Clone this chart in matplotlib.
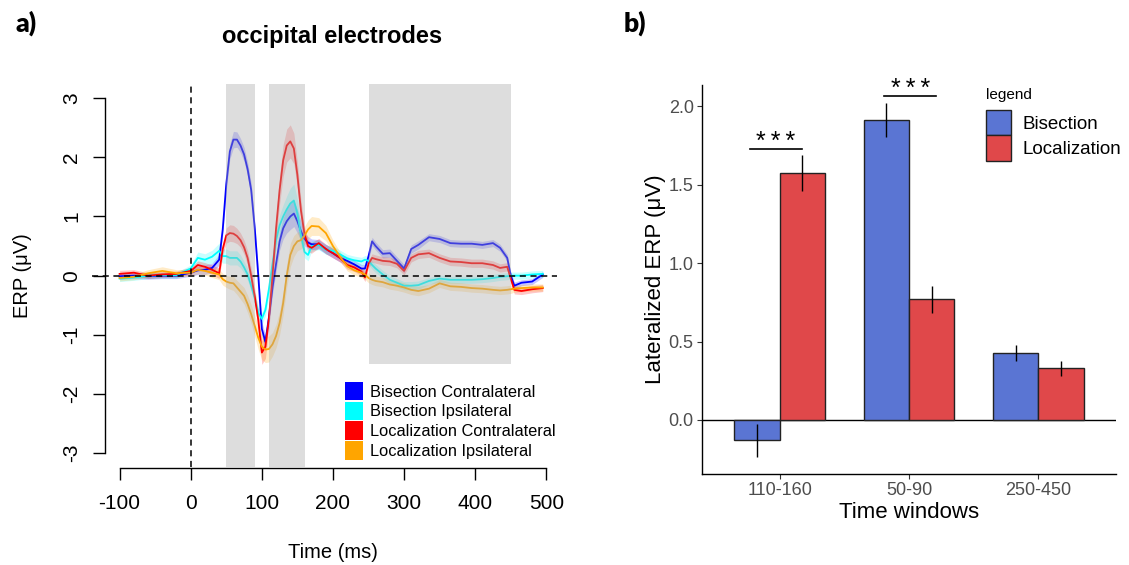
import numpy as np
import matplotlib
matplotlib.use("Agg")
import matplotlib.pyplot as plt
from matplotlib.patches import Patch

plt.rcParams['font.family'] = ['Liberation Sans', 'DejaVu Sans']
plt.rcParams['axes.unicode_minus'] = False

# ---- panel a: grand average ERP, occipital electrodes ----
time_ms = [-100, -80, -60, -40, -20, 0, 10, 20, 30, 40,
           45, 50, 55, 60, 65, 70, 75, 80, 85, 90,
           95, 100, 105, 110, 115, 120, 125, 130, 135, 140,
           145, 150, 155, 160, 165, 170, 180, 190, 200, 210,
           220, 230, 240, 245, 250, 255, 260, 270, 280, 290,
           300, 310, 320, 335, 350, 365, 380, 395, 410, 425,
           435, 445, 450, 455, 465, 480, 495]

bis_contra = [-0.01, 0.0, -0.01, 0.0, 0.0, 0.05, 0.09, 0.1, 0.13, 0.27,
              0.78, 1.55, 2.1, 2.3, 2.3, 2.2, 2.05, 1.8, 1.45, 0.8,
              0.0, -0.9, -1.12, -0.7, -0.2, 0.2, 0.58, 0.8, 0.92, 1.0,
              1.05, 0.92, 0.75, 0.62, 0.56, 0.53, 0.53, 0.45, 0.38, 0.3,
              0.25, 0.19, 0.12, 0.12, 0.33, 0.58, 0.5, 0.37, 0.38, 0.25,
              0.12, 0.45, 0.52, 0.65, 0.62, 0.55, 0.54, 0.54, 0.52, 0.55,
              0.47, 0.3, 0.0, -0.17, -0.12, -0.1, 0.02]
bis_ipsi = [-0.05, -0.03, 0.0, 0.01, 0.01, 0.12, 0.3, 0.27, 0.32, 0.42,
            0.33, 0.33, 0.3, 0.3, 0.3, 0.24, 0.14, 0.02, -0.17, -0.38,
            -0.63, -0.73, -0.58, -0.22, 0.2, 0.6, 0.85, 1.0, 1.12, 1.22,
            1.27, 1.05, 0.68, 0.4, 0.35, 0.5, 0.52, 0.44, 0.42, 0.36,
            0.29, 0.26, 0.24, 0.27, 0.25, 0.18, 0.12, 0.02, -0.07, -0.12,
            -0.17, -0.17, -0.16, -0.09, -0.05, -0.07, -0.07, -0.07, -0.06, -0.04,
            -0.02, -0.01, 0.0, 0.0, 0.0, 0.02, 0.03]
loc_contra = [0.03, 0.05, 0.0, 0.02, 0.03, 0.08, 0.18, 0.15, 0.1, 0.04,
              0.45, 0.68, 0.72, 0.71, 0.67, 0.6, 0.48, 0.3, 0.0, -0.35,
              -0.75, -1.3, -1.2, -0.72, 0.0, 0.8, 1.45, 1.95, 2.2, 2.27,
              2.15, 1.7, 1.1, 0.7, 0.5, 0.47, 0.55, 0.45, 0.38, 0.3,
              0.18, 0.14, 0.07, -0.03, 0.2, 0.3, 0.28, 0.25, 0.24, 0.2,
              0.08, 0.3, 0.36, 0.38, 0.3, 0.24, 0.23, 0.21, 0.21, 0.18,
              0.13, 0.15, -0.05, -0.24, -0.26, -0.23, -0.21]
loc_ipsi = [-0.04, -0.02, 0.04, 0.08, 0.04, 0.05, 0.1, 0.08, 0.05, 0.02,
            -0.06, -0.1, -0.12, -0.13, -0.2, -0.27, -0.34, -0.48, -0.65, -0.85,
            -1.05, -1.2, -1.25, -1.24, -1.16, -1.02, -0.8, -0.46, 0.0, 0.35,
            0.5, 0.58, 0.6, 0.68, 0.78, 0.84, 0.83, 0.72, 0.5, 0.32,
            0.16, 0.09, 0.05, 0.02, -0.04, -0.07, -0.09, -0.11, -0.15, -0.17,
            -0.2, -0.24, -0.26, -0.22, -0.13, -0.18, -0.19, -0.21, -0.22, -0.24,
            -0.25, -0.24, -0.23, -0.22, -0.21, -0.2, -0.2]

# standard error ribbons
bis_contra_se = [0.05, 0.05, 0.05, 0.05, 0.05, 0.06, 0.07, 0.08, 0.08, 0.09,
                 0.1, 0.12, 0.13, 0.14, 0.13, 0.12, 0.12, 0.12, 0.12, 0.12,
                 0.12, 0.12, 0.12, 0.12, 0.12, 0.13, 0.15, 0.18, 0.2, 0.22,
                 0.22, 0.2, 0.16, 0.12, 0.1, 0.09, 0.08, 0.08, 0.08, 0.07,
                 0.07, 0.07, 0.07, 0.07, 0.07, 0.07, 0.07, 0.07, 0.07, 0.07,
                 0.07, 0.07, 0.07, 0.06, 0.06, 0.06, 0.06, 0.06, 0.06, 0.06,
                 0.06, 0.06, 0.06, 0.06, 0.05, 0.05, 0.05]
bis_ipsi_se = [0.05, 0.05, 0.05, 0.05, 0.05, 0.06, 0.1, 0.1, 0.11, 0.13,
               0.12, 0.12, 0.12, 0.12, 0.12, 0.11, 0.1, 0.1, 0.1, 0.1,
               0.1, 0.1, 0.1, 0.1, 0.12, 0.15, 0.18, 0.2, 0.23, 0.26,
               0.28, 0.24, 0.16, 0.1, 0.1, 0.09, 0.08, 0.08, 0.08, 0.07,
               0.07, 0.07, 0.07, 0.07, 0.07, 0.07, 0.07, 0.07, 0.07, 0.07,
               0.07, 0.07, 0.07, 0.06, 0.06, 0.06, 0.06, 0.06, 0.06, 0.06,
               0.06, 0.06, 0.06, 0.06, 0.06, 0.06, 0.06]
loc_contra_se = [0.06, 0.05, 0.05, 0.05, 0.05, 0.06, 0.07, 0.07, 0.08, 0.09,
                 0.11, 0.13, 0.14, 0.14, 0.13, 0.12, 0.12, 0.12, 0.13, 0.14,
                 0.16, 0.2, 0.2, 0.18, 0.18, 0.2, 0.24, 0.27, 0.28, 0.28,
                 0.26, 0.22, 0.18, 0.12, 0.1, 0.09, 0.08, 0.08, 0.08, 0.07,
                 0.07, 0.07, 0.07, 0.07, 0.07, 0.07, 0.07, 0.07, 0.07, 0.07,
                 0.07, 0.07, 0.07, 0.07, 0.07, 0.07, 0.07, 0.07, 0.07, 0.07,
                 0.07, 0.07, 0.07, 0.07, 0.06, 0.06, 0.06]
loc_ipsi_se = [0.05, 0.05, 0.06, 0.07, 0.06, 0.06, 0.07, 0.07, 0.08, 0.09,
               0.1, 0.1, 0.11, 0.12, 0.12, 0.13, 0.14, 0.15, 0.16, 0.18,
               0.2, 0.22, 0.22, 0.22, 0.2, 0.2, 0.2, 0.2, 0.2, 0.2,
               0.18, 0.16, 0.15, 0.15, 0.16, 0.16, 0.15, 0.13, 0.1, 0.08,
               0.08, 0.08, 0.08, 0.08, 0.08, 0.08, 0.08, 0.08, 0.08, 0.08,
               0.08, 0.08, 0.08, 0.07, 0.07, 0.07, 0.07, 0.07, 0.07, 0.07,
               0.07, 0.07, 0.07, 0.06, 0.06, 0.06, 0.06]

erp_names = ["Bisection Contralateral", "Bisection Ipsilateral",
             "Localization Contralateral", "Localization Ipsilateral"]
erp_colors = ["#0000ff", "#00ffff", "#ff0000", "#ffa500"]

# analysis windows (ms)
win_start = [50, 110, 250]
win_end = [90, 160, 450]
win_bottom = [-3.3, -3.3, -1.5]

# ---- panel b: lateralized ERP per time window ----
windows = ["110-160", "50-90", "250-450"]
bisection = [-0.13, 1.91, 0.425]
bisection_se = [0.105, 0.11, 0.052]
localization = [1.573, 0.769, 0.329]
localization_se = [0.117, 0.085, 0.048]
sig_x0 = [0.77, 1.81]
sig_x1 = [1.17, 2.21]
sig_y = [1.726, 2.064]

W, H = 1129, 565
fig = plt.figure(figsize=(W / 100, H / 100), dpi=100)

# ================= panel a =================
ax = fig.add_axes([92 / W, 1 - 467 / H, 465 / W, 383 / H])
t = np.array(time_ms)
series = [bis_contra, bis_ipsi, loc_contra, loc_ipsi]
ses = [bis_contra_se, bis_ipsi_se, loc_contra_se, loc_ipsi_se]
for vals, se, col in zip(series, ses, erp_colors):
    v = np.array(vals)
    s = np.array(se)
    ax.fill_between(t, v - s, v + s, color=col, alpha=0.22, lw=0, zorder=2)
    ax.plot(t, v, color=col, lw=1.3, zorder=3)

for s0, s1, b in zip(win_start, win_end, win_bottom):
    ax.axvspan(s0, s1, ymin=(b + 3.235) / 6.475, ymax=1, color="#a8a8a8",
               alpha=0.38, lw=0, zorder=4)

ax.axhline(0, color="black", ls=(0, (4, 3)), lw=1.1, zorder=5)
ax.axvline(0, color="black", ls=(0, (4, 3)), lw=1.1, zorder=5)

ax.set_xlim(-138.8, 515)
ax.set_ylim(-3.235, 3.24)
ax.spines[['top', 'right']].set_visible(False)
ax.spines['left'].set_position(('data', -121))
ax.spines['left'].set_bounds(-3, 3)
ax.spines['bottom'].set_bounds(-100, 500)
ax.spines['bottom'].set_position(('outward', 1))
for sp in ['left', 'bottom']:
    ax.spines[sp].set_linewidth(1.0)
ax.set_xticks(range(-100, 501, 100))
ax.set_yticks(range(-3, 4))
ax.tick_params(axis='x', length=8.5, width=1.0, pad=10, labelsize=15)
ax.tick_params(axis='y', length=9, width=1.0, pad=8, labelsize=15, labelrotation=90)
for lab in ax.get_yticklabels():
    lab.set_va('center')
ax.set_xlabel("Time (ms)", fontsize=14.5)
ax.xaxis.set_label_coords((332.6 - 92) / 465, (467 - 553) / 383)
ax.xaxis.label.set_va('center')
ax.set_ylabel("ERP (\u03bcV)", fontsize=14.5)
ax.yaxis.set_label_coords((22 - 92) / 465, 0.5)
ax.yaxis.label.set_va('center')

handles = [Patch(facecolor=c, edgecolor='none') for c in erp_colors]
ax.legend(handles, erp_names, loc='upper left',
          bbox_to_anchor=(345 / W, 1 - 382 / H), bbox_transform=fig.transFigure,
          frameon=False, fontsize=11.8, handlelength=1.1, handleheight=1.35,
          handletextpad=0.4, labelspacing=0.08, borderpad=0, borderaxespad=0)

fig.text(332 / W, 1 - 37 / H, "occipital electrodes", fontsize=17,
         fontweight='bold', ha='center', va='center')
fig.text(26 / W, 1 - 23 / H, "a)", fontsize=19, fontweight='heavy',
         ha='center', va='center', family=['Lato', 'DejaVu Sans'])

# ================= panel b =================
bx = fig.add_axes([702 / W, 1 - 474 / H, 414 / W, 389 / H])
pos = np.arange(1, len(windows) + 1)
bw = 0.35
blue = "#5a75d3"
red = "#e0484a"
bx.bar(pos - bw / 2, bisection, width=bw, color=blue, edgecolor="#222222",
       lw=1.0, zorder=2, label="Bisection")
bx.bar(pos + bw / 2, localization, width=bw, color=red, edgecolor="#222222",
       lw=1.0, zorder=2, label="Localization")
bx.errorbar(pos - bw / 2, bisection, yerr=bisection_se, fmt='none',
            ecolor='black', elinewidth=1.0, capsize=0, zorder=3)
bx.errorbar(pos + bw / 2, localization, yerr=localization_se, fmt='none',
            ecolor='black', elinewidth=1.0, capsize=0, zorder=3)
bx.axhline(0, color='black', lw=1.0, zorder=1)

for x0, x1, y in zip(sig_x0, sig_x1, sig_y):
    bx.plot([x0, x1], [y, y], color='black', lw=1.2)
    bx.text((x0 + x1) / 2, y + 0.045, "*\u2009*\u2009*", ha='center',
            va='center', fontsize=18)

bx.set_xlim(0.4, 3.6)
bx.set_ylim(-0.344, 2.134)
bx.spines[['top', 'right']].set_visible(False)
for sp in ['left', 'bottom']:
    bx.spines[sp].set_linewidth(1.0)
bx.set_xticks(pos)
bx.set_xticklabels(windows)
bx.set_yticks([0.0, 0.5, 1.0, 1.5, 2.0])
bx.set_yticklabels(["0.0", "0.5", "1.0", "1.5", "2.0"])
bx.tick_params(length=3.5, width=0.8, color="#333333", pad=2.5,
               labelsize=13, labelcolor="#4d4d4d")
bx.set_xlabel("Time windows", fontsize=16)
bx.xaxis.set_label_coords(0.5, (474 - 512) / 389)
bx.xaxis.label.set_va('center')
bx.set_ylabel("Lateralized ERP (\u03bcV)", fontsize=16)
bx.yaxis.set_label_coords((655 - 702) / 414, 0.5)
bx.yaxis.label.set_va('center')

bx.legend(loc='upper left', bbox_to_anchor=(986 / W, 1 - 110 / H),
          bbox_transform=fig.transFigure, frameon=False,
          fontsize=13.5, handlelength=1.33, handleheight=1.7,
          labelspacing=0.0, handletextpad=0.6, borderpad=0, borderaxespad=0)
fig.text(986 / W, 1 - 95 / H, "legend", fontsize=11, ha='left', va='center')

fig.text(635 / W, 1 - 23 / H, "b)", fontsize=19, fontweight='heavy',
         ha='center', va='center', family=['Lato', 'DejaVu Sans'])

fig.savefig("out.png", dpi=100)
